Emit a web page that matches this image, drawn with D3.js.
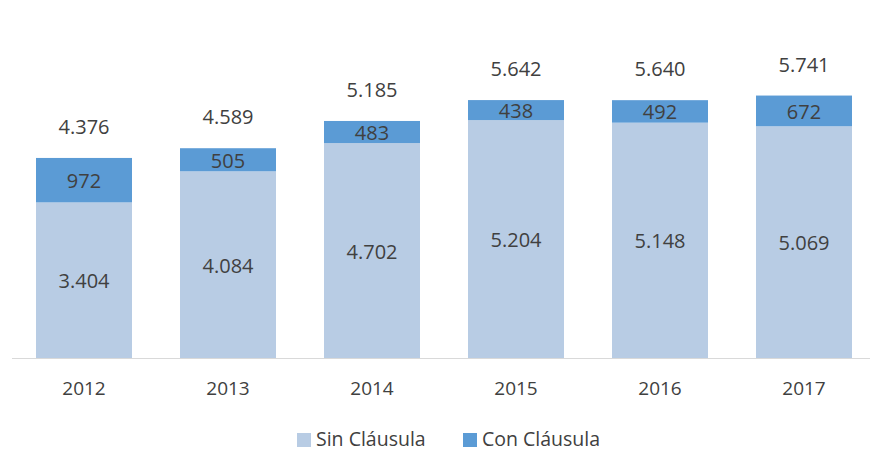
<!DOCTYPE html>
<html>
<head>
<meta charset="utf-8">
<script src="https://cdn.jsdelivr.net/npm/d3@7"></script>
<style>
  body { margin: 0; background: #fff; }
  text { font-family: "Open Sans", sans-serif; fill: #404040; }
</style>
</head>
<body>
<script>
// Data
var years = ["2012", "2013", "2014", "2015", "2016", "2017"];
var sinClausula = [3404, 4084, 4702, 5204, 5148, 5069];
var conClausula = [972, 505, 483, 438, 492, 672];
var totals = [4376, 4589, 5185, 5642, 5640, 5741];
var seriesNames = ["Sin Cláusula", "Con Cláusula"];
var seriesColors = ["#b8cce4", "#5b9bd5"];

var width = 870, height = 452;

var svg = d3.select("body")
    .append("svg")
    .attr("width", width)
    .attr("height", height);

var x = d3.scaleBand()
    .domain(years)
    .range([12, 876])
    .paddingInner(1 / 3)
    .paddingOuter(1 / 6);

var y = d3.scaleLinear()
    .domain([0, 7000])
    .range([358, 38]);

// format numbers with a dot as thousands separator
var fmt = d3.formatLocale({ decimal: ",", thousands: ".", grouping: [3], currency: ["", ""] }).format(",d");

var rows = years.map(function (yr, i) {
    return { year: yr, sin: sinClausula[i], con: conClausula[i], total: totals[i] };
});

var stack = d3.stack().keys(["sin", "con"])(rows);

var layers = svg.selectAll(".layer")
    .data(stack)
    .enter()
    .append("g")
    .attr("class", "layer")
    .attr("fill", function (d, i) { return seriesColors[i]; });

layers.selectAll("rect")
    .data(function (d) { return d; })
    .enter()
    .append("rect")
    .attr("x", function (d) { return x(d.data.year); })
    .attr("width", x.bandwidth())
    .attr("y", function (d) { return y(d[1]); })
    .attr("height", function (d) { return y(d[0]) - y(d[1]); });

// segment labels
layers.selectAll("text")
    .data(function (d) { return d.map(function (p) { return { p: p, key: d.key }; }); })
    .enter()
    .append("text")
    .attr("x", function (d) { return x(d.p.data.year) + x.bandwidth() / 2; })
    .attr("y", function (d) { return (y(d.p[0]) + y(d.p[1])) / 2 + 1; })
    .attr("dy", "0.35em")
    .attr("text-anchor", "middle")
    .style("font-size", "20px")
    .text(function (d) { return fmt(d.p.data[d.key]); });

// totals above bars
svg.selectAll(".total")
    .data(rows)
    .enter()
    .append("text")
    .attr("class", "total")
    .attr("x", function (d) { return x(d.year) + x.bandwidth() / 2; })
    .attr("y", function (d) { return y(d.total) - 31; })
    .attr("dy", "0.35em")
    .attr("text-anchor", "middle")
    .style("font-size", "20px")
    .text(function (d) { return fmt(d.total); });

// x axis
var xAxis = svg.append("g")
    .attr("transform", "translate(0," + y(0) + ")")
    .call(d3.axisBottom(x).tickSize(0).tickPadding(24));
xAxis.select(".domain").attr("stroke", "#d9d9d9").attr("stroke-width", 1.2)
    .attr("d", "M12,0.5H870");
xAxis.selectAll("text")
    .style("font-size", "19px")
    .style("font-family", "'Open Sans', sans-serif")
    .attr("fill", "#404040");

// legend
var legendX = [297, 463];
var legend = svg.selectAll(".legend")
    .data(seriesNames)
    .enter()
    .append("g")
    .attr("class", "legend")
    .attr("transform", function (d, i) { return "translate(" + legendX[i] + ",439)"; });

legend.append("rect")
    .attr("x", 0)
    .attr("y", -6)
    .attr("width", 14)
    .attr("height", 14)
    .attr("fill", function (d, i) { return seriesColors[i]; });

legend.append("text")
    .attr("x", 19)
    .attr("dy", "0.35em")
    .style("font-size", "19.5px")
    .text(function (d) { return d; });
</script>
</body>
</html>
